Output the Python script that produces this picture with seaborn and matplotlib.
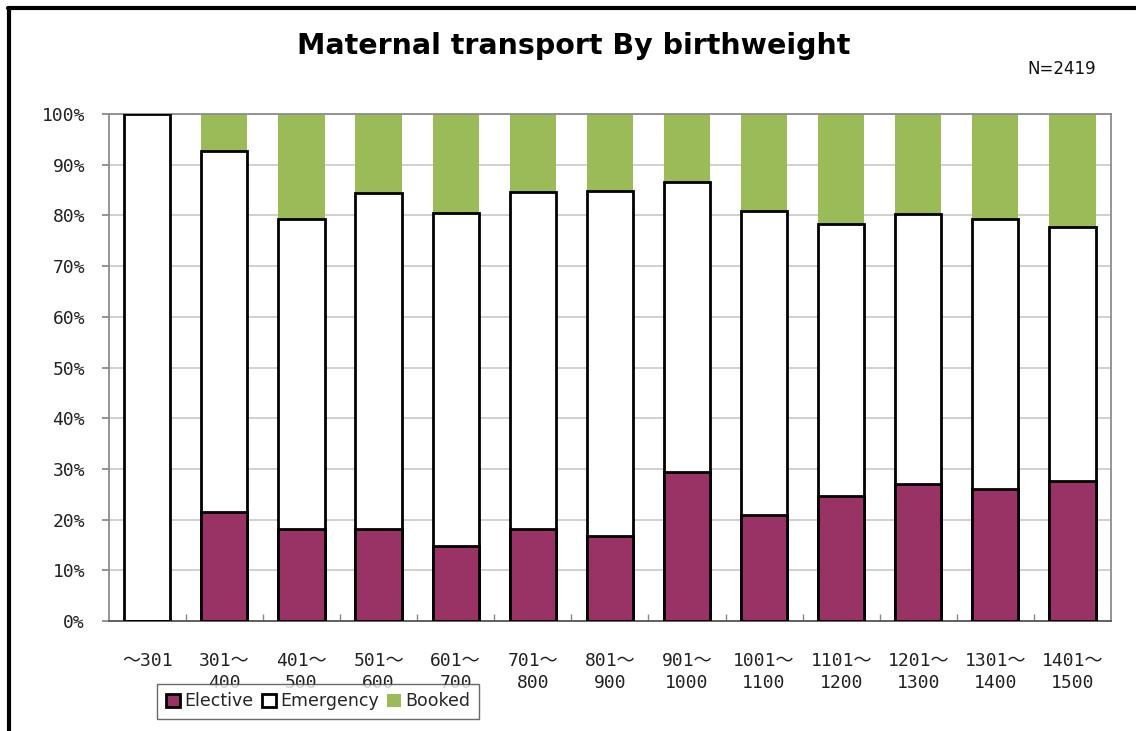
import matplotlib
matplotlib.use("Agg")
import matplotlib.pyplot as plt
import seaborn as sns
import pandas as pd
import numpy as np
from matplotlib.lines import Line2D
from matplotlib.patches import Patch

categories = ["～301", "301～\n400", "401～\n500", "501～\n600", "601～\n700", "701～\n800",
              "801～\n900", "901～\n1000", "1001～\n1100", "1101～\n1200", "1201～\n1300",
              "1301～\n1400", "1401～\n1500"]
elective = [0, 21.5, 18.2, 18.2, 14.7, 18.2, 16.7, 29.3, 20.9, 24.6, 27.1, 26.1, 27.6]
emergency = [100, 71.3, 61.0, 66.2, 65.8, 66.4, 68.2, 57.2, 60.0, 53.8, 53.1, 53.2, 50.2]
booked = [0, 7.2, 20.8, 15.6, 19.5, 15.4, 15.1, 13.5, 19.1, 21.6, 19.8, 20.7, 22.2]
series_names = ["Elective", "Emergency", "Booked"]
yticks = [0, 10, 20, 30, 40, 50, 60, 70, 80, 90, 100]
ytick_labels = [f"{v}%" for v in yticks]

sns.set_theme(style="white")
plt.rcParams['font.family'] = ['DejaVu Sans', 'Noto Sans CJK JP']

df = pd.DataFrame({"cat": categories, "elective": elective,
                   "emergency": emergency, "booked": booked})
df["cum_em"] = df["elective"] + df["emergency"]
df["total"] = df["cum_em"] + df["booked"]

fig = plt.figure(figsize=(11.36, 7.31), dpi=100)
ax = fig.add_axes([0.0957, 0.1505, 0.8823, 0.6935])

purple = "#993366"
green = "#9BBB59"

sns.barplot(data=df, x="cat", y="total", color=green, saturation=1, width=0.6,
            edgecolor="none", linewidth=0, ax=ax, zorder=2)
sns.barplot(data=df, x="cat", y="cum_em", color="white", saturation=1, width=0.6,
            edgecolor="black", linewidth=2, ax=ax, zorder=3)
sns.barplot(data=df, x="cat", y="elective", color=purple, saturation=1, width=0.6,
            edgecolor="black", linewidth=2, ax=ax, zorder=4)

ax.set_xlim(-0.5, len(categories) - 0.5)
ax.set_ylim(0, 100)
ax.set_xlabel("")
ax.set_ylabel("")
ax.set_yticks(yticks)
ax.set_yticklabels(ytick_labels)
ax.yaxis.grid(True, color="#c8c8c8", linewidth=1.2, zorder=0)
ax.set_axisbelow(True)

mono = ['DejaVu Sans Mono', 'Noto Sans CJK JP']
for lbl in ax.get_yticklabels():
    lbl.set_fontfamily(mono)
    lbl.set_fontsize(13)
    lbl.set_color("#222222")
ax.set_xticks(range(len(categories)))
ax.set_xticklabels(categories, fontsize=13, linespacing=1.35)
for lbl in ax.get_xticklabels():
    lbl.set_fontfamily(mono)
    lbl.set_color("#222222")
ax.tick_params(axis="x", which="major", length=0, pad=22)
ax.set_xticks(np.arange(0.5, len(categories) - 1, 1), minor=True)
ax.tick_params(axis="x", which="minor", direction="in", length=5, color="#888888", bottom=True)
ax.tick_params(axis="y", which="major", direction="out", length=5, color="#888888",
               left=True, pad=12)

for s in ax.spines.values():
    s.set_color("#8c8c8c")
    s.set_linewidth(1.3)
ax.spines["bottom"].set_color("#555555")

fig.text(0.505, 0.937, "Maternal transport By birthweight", ha="center", va="center",
         fontsize=20.5, fontweight="bold", color="black")
fig.text(0.935, 0.906, "N=2419", ha="center", va="center", fontsize=12, color="#111111")

handles = [Patch(facecolor=purple, edgecolor="black", linewidth=2),
           Patch(facecolor="white", edgecolor="black", linewidth=2),
           Patch(facecolor=green, edgecolor="none")]
leg = fig.legend(handles, series_names, loc="lower left",
                 bbox_to_anchor=(157 / 1136, 1 - 719 / 731), ncol=3, frameon=True,
                 fontsize=12.5, handlelength=0.8, handleheight=0.8, handletextpad=0.25,
                 columnspacing=0.5, borderpad=0.5, fancybox=False, borderaxespad=0)
leg.get_frame().set_edgecolor("#444444")
leg.get_frame().set_linewidth(1)
leg.get_frame().set_facecolor("white")
leg.set_zorder(10)

fig.add_artist(Line2D([9 / 1136, 9 / 1136], [0, 1 - 8 / 731], color="black", linewidth=3,
                      transform=fig.transFigure))
fig.add_artist(Line2D([8 / 1136, 1], [1 - 8 / 731, 1 - 8 / 731], color="black", linewidth=3,
                      transform=fig.transFigure))

fig.savefig("out.png", dpi=100, facecolor="white")
